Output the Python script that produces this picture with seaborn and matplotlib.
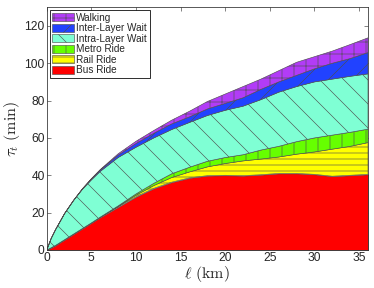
import matplotlib
matplotlib.use("Agg")
import matplotlib.pyplot as plt
import seaborn as sns

# distance (km) and time spent per mode (min)
km = [0, 0.5, 1, 2, 3, 4, 5, 6, 8, 10, 12, 14, 16, 18, 20, 22, 24, 26, 28, 30, 32, 34, 36]
bus = [0, 1.2, 2.5, 5.5, 8.5, 11.5, 14.5, 17.5, 23, 28.5, 33, 36.3, 38.6, 39.8, 40, 39.8, 40.3, 41, 41, 40.5, 39.5, 40, 40.5]
rail = [0, 0, 0, 0, 0, 0, 0, 0, 0.3, 0.8, 1.5, 2.5, 3.2, 4.7, 6.3, 7.9, 8.4, 8.8, 10.3, 12, 14.5, 15.5, 17]
metro = [0, 0, 0, 0, 0, 0, 0, 0.1, 0.3, 0.7, 1.2, 2.0, 2.5, 3, 3.2, 3.3, 4.8, 5.7, 6.7, 7.5, 7.5, 7.5, 7.2]
intra_wait = [0, 5.0, 8.5, 14.0, 18.0, 21.0, 23.0, 24.5, 25.9, 25.0, 24.3, 23.7, 24.0, 24.5, 25.3, 26, 27, 29, 29.5, 30, 30, 30, 29.6]
inter_wait = [0, 0, 0, 0, 0, 0.2, 0.5, 0.7, 1.3, 2.0, 2.5, 3, 3, 3.5, 3.7, 4.5, 5.5, 5.5, 6, 7, 8.5, 9.5, 11.4]
walking = [0, 0, 0, 0, 0, 0.1, 0.2, 0.3, 0.7, 1.2, 1.5, 2, 3, 4, 5, 6, 5.5, 6, 7, 6.5, 6.5, 7.5, 7.9]

labels = ['Bus Ride', 'Rail Ride', 'Metro Ride', 'Intra-Layer Wait', 'Inter-Layer Wait', 'Walking']
colors = ['#FF0000', '#FFFF00', '#66FF00', '#7FFFD4', '#2142FF', '#B23CF7']
hatches = [None, '--', '|', '\\', '/', '+']

sns.set_theme(style="ticks")
plt.rcParams['font.family'] = ['Liberation Sans', 'DejaVu Sans']
plt.rcParams['mathtext.fontset'] = 'cm'
plt.rcParams['hatch.linewidth'] = 0.6
plt.rcParams['xtick.direction'] = 'in'
plt.rcParams['ytick.direction'] = 'in'

fig = plt.figure(figsize=(374 / 72, 288 / 72), dpi=72)
ax = fig.add_axes([0.125, 0.132, 0.859, 0.843])

polys = ax.stackplot(km, bus, rail, metro, intra_wait, inter_wait, walking,
                     labels=labels, colors=colors, edgecolor='#4d4d4d', linewidth=0.6)
for p, h in zip(polys, hatches):
    if h:
        p.set_hatch(h)

ax.set_xlim(0, 36)
ax.set_ylim(0, 130)
ax.set_xticks(range(0, 36, 5))
ax.set_yticks(range(0, 121, 20))
ax.tick_params(labelsize=12, top=True, right=True, length=4, width=0.6, color='#333333', pad=2)
for s in ax.spines.values():
    s.set_linewidth(0.8)
    s.set_color('#333333')

ax.set_xlabel(r'$\ell\ (\mathrm{km})$', fontsize=16, labelpad=0)
ax.set_ylabel(r'$\tau_t\ (\mathrm{min})$', fontsize=16, labelpad=2)

handles, labs = ax.get_legend_handles_labels()
leg = ax.legend(handles[::-1], labs[::-1], loc='upper left', fontsize=10,
                frameon=True, fancybox=False, edgecolor='black', framealpha=1,
                handlelength=2.2, handleheight=0.8, handletextpad=0.2,
                labelspacing=0.05, borderpad=0.25, borderaxespad=0.3)
leg.get_frame().set_linewidth(0.8)

plt.savefig('out.png', dpi=72)
